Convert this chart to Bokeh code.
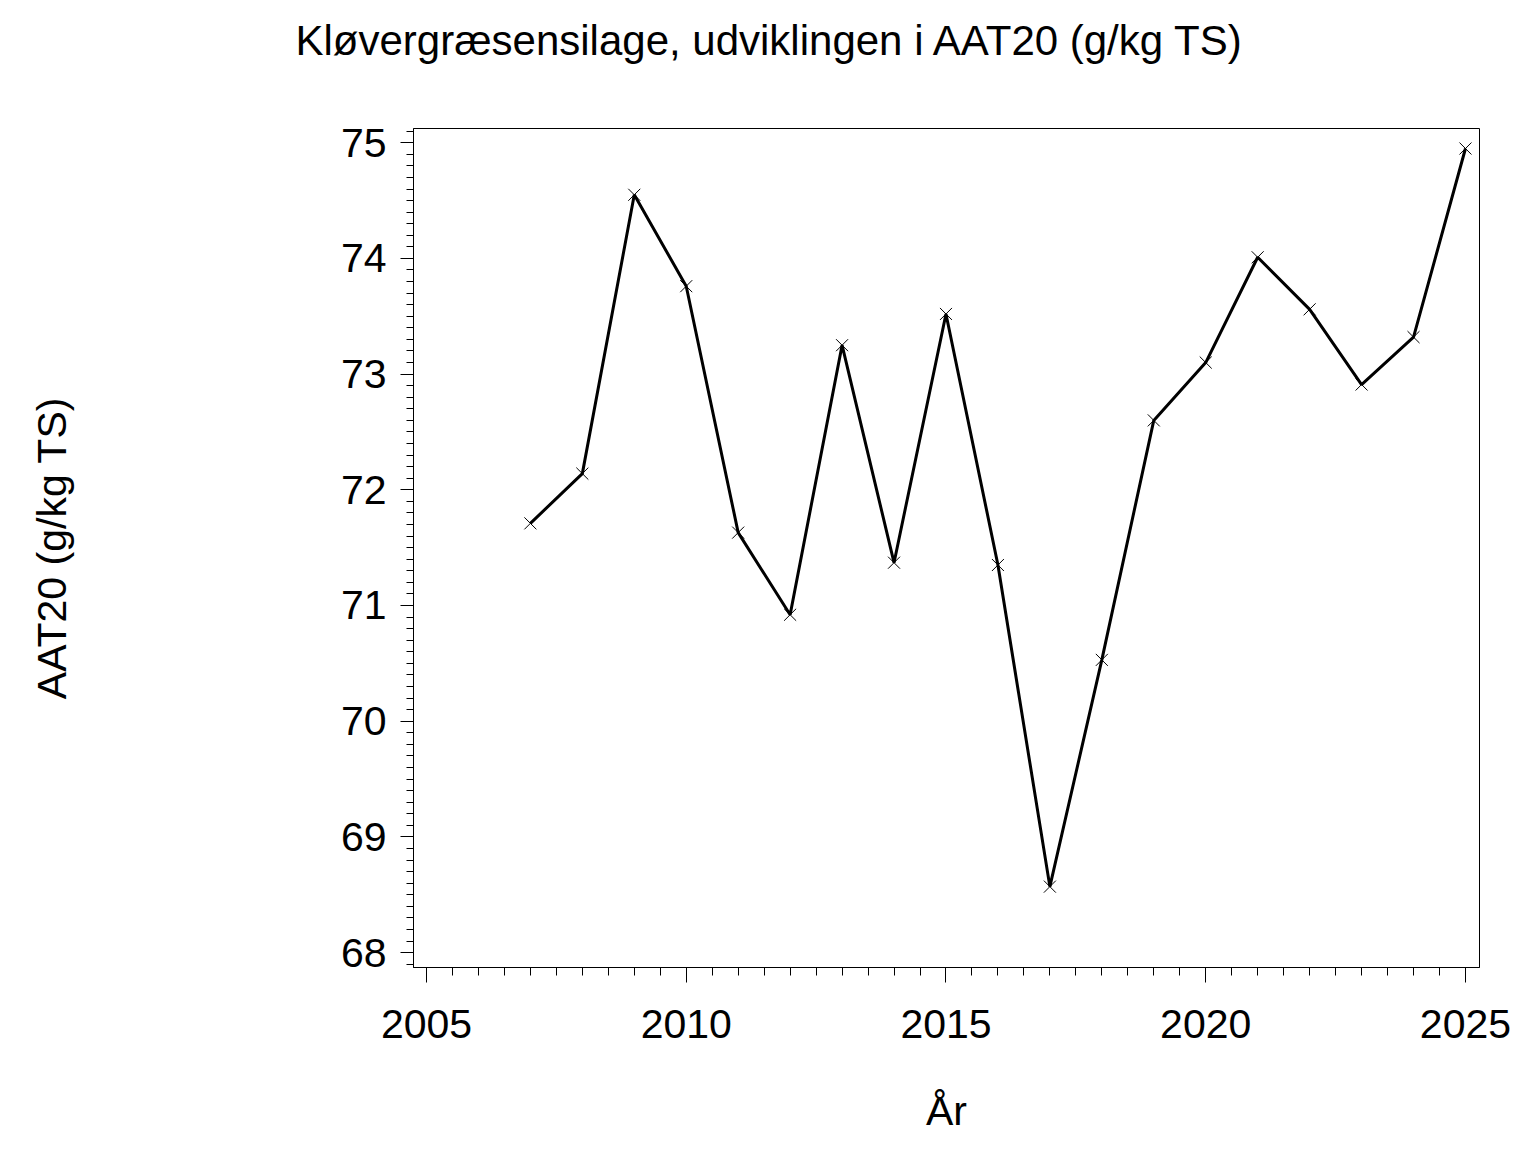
from bokeh.plotting import figure
from bokeh.models import Range1d, SingleIntervalTicker, Title
from bokeh.embed import file_html
from bokeh.resources import INLINE

years = [2007, 2008, 2009, 2010, 2011, 2012, 2013, 2014, 2015, 2016,
         2017, 2018, 2019, 2020, 2021, 2022, 2023, 2024, 2025]
aat20 = [71.71, 72.14, 74.55, 73.76, 71.63, 70.92, 73.25, 71.37, 73.52, 71.35,
         68.57, 70.53, 72.60, 73.10, 74.01, 73.56, 72.91, 73.32, 74.95]

title_text = "Kløvergræsensilage, udviklingen i AAT20 (g/kg TS)"
x_label = "År"
y_label = "AAT20 (g/kg TS)"

FONT = "Liberation Sans"
W, H = 1520, 1136

p = figure(width=W, height=H, output_backend="svg", toolbar_location=None,
           x_range=Range1d(2004.75, 2025.27), y_range=Range1d(67.871, 75.123),
           min_border_left=413, min_border_right=41, min_border_top=128, min_border_bottom=166)

p.title.text = title_text
p.title.text_font = FONT
p.title.text_font_size = "42px"
p.title.text_font_style = "normal"
p.title.text_color = "black"
p.title.align = "left"
p.title.offset = -118
p.title.vertical_align = "top"
p.title.standoff = 28

# empty spacer between the frame and the title, pushes the title to the top of the page
spacer = Title(text=" ", text_font=FONT, text_font_size="42px", standoff=0)
p.add_layout(spacer, "above")

p.grid.visible = False
p.outline_line_color = "black"
p.outline_line_width = 1
p.background_fill_color = "white"
p.border_fill_color = "white"

p.xaxis.ticker = SingleIntervalTicker(interval=5, num_minor_ticks=10)
p.yaxis.ticker = SingleIntervalTicker(interval=1, num_minor_ticks=10)

for ax in (p.xaxis[0], p.yaxis[0]):
    ax.axis_line_color = "black"
    ax.major_tick_line_color = "black"
    ax.minor_tick_line_color = "black"
    ax.major_tick_in = 0
    ax.minor_tick_in = 0
    ax.major_label_text_font = FONT
    ax.major_label_text_font_size = "41px"
    ax.major_label_text_color = "black"
    ax.axis_label_text_font = FONT
    ax.axis_label_text_font_size = "41px"
    ax.axis_label_text_font_style = "normal"
    ax.axis_label_text_color = "black"

p.xaxis.major_tick_out = 15
p.xaxis.minor_tick_out = 8
p.yaxis.major_tick_out = 13
p.yaxis.minor_tick_out = 7

p.xaxis.axis_label = x_label
p.yaxis.axis_label = y_label
p.xaxis.major_label_standoff = 27
p.yaxis.major_label_standoff = 14
p.xaxis.axis_label_standoff = 47
p.yaxis.axis_label_standoff = 263

p.line(years, aat20, line_color="black", line_width=3)
p.scatter(years, aat20, marker="x", size=17, line_color="black", line_width=1)

open("out.html", "w").write(file_html(p, INLINE))
